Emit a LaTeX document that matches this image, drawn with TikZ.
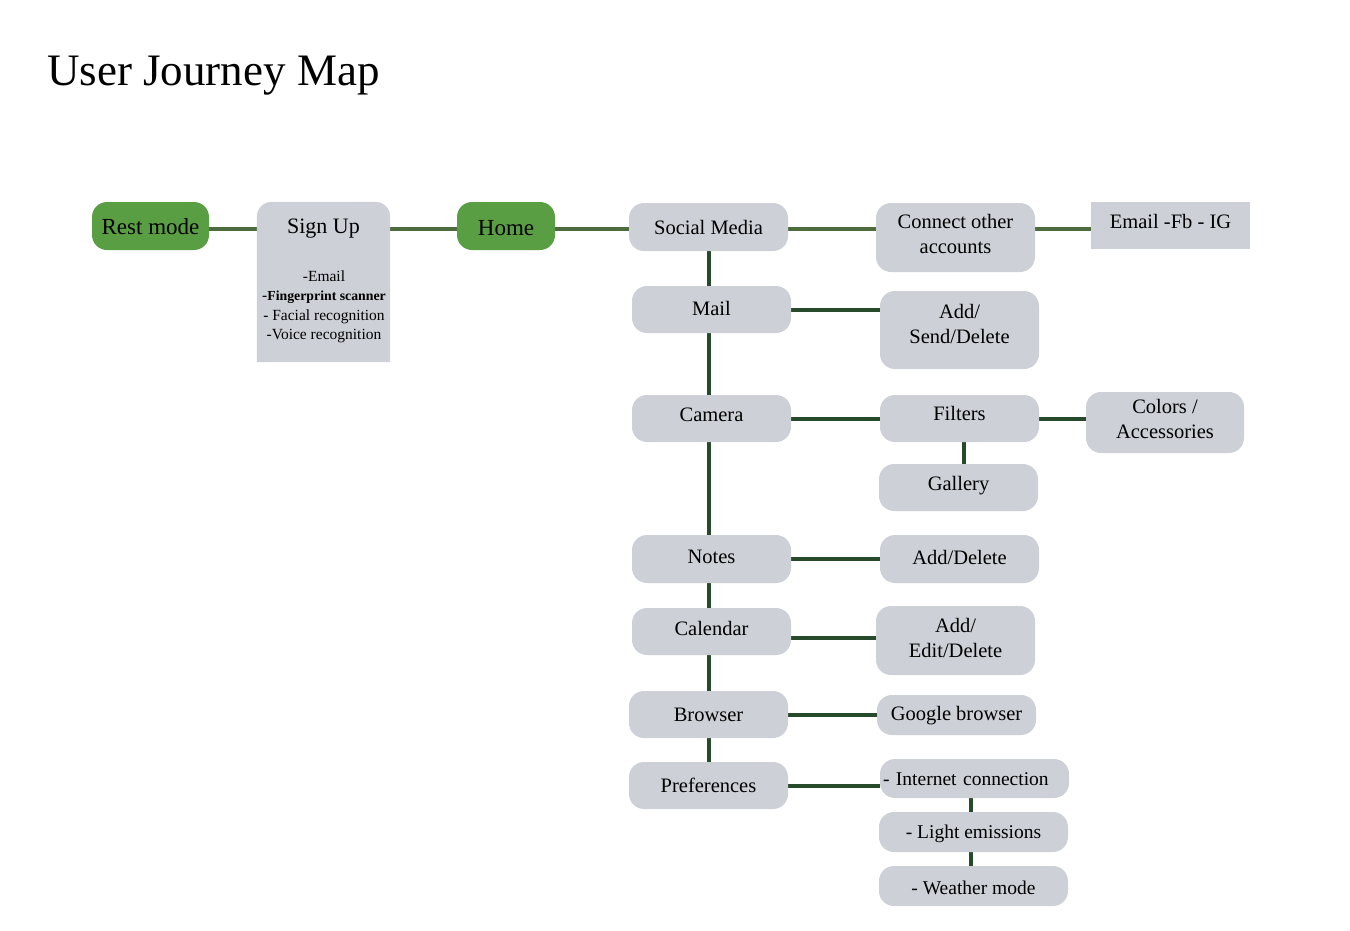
\documentclass[tikz,border=0pt]{standalone}
\usepackage{fontspec}
\setmainfont{Liberation Serif}
\usetikzlibrary{backgrounds}
\definecolor{boxgray}{RGB}{205,208,215}
\definecolor{boxgreen}{RGB}{90,158,68}
\definecolor{linetop}{RGB}{76,108,62}
\definecolor{linedark}{RGB}{38,74,42}
\newcommand{\tx}[2]{\raisebox{#1}[\height][\depth]{#2}}
\newcommand{\tl}[2]{\raisebox{#1}[\height][\depth]{\begin{tabular}{@{}c@{}}#2\end{tabular}}}
\tikzset{
  box/.style={fill=boxgray, rounded corners=15pt, inner sep=2pt, align=center,
    font=\fontsize{20.5}{25}\selectfont},
  gbox/.style={box, fill=boxgreen, font=\fontsize{23}{27}\selectfont},
  sqbox/.style={box, rounded corners=0pt},
  pbox/.style={box, font=\fontsize{19.5}{24}\selectfont},
  conn/.style={line width=4pt, draw=linedark},
  conntop/.style={line width=4pt, draw=linetop},
}
\begin{document}
\begin{tikzpicture}[x=1pt,y=-1pt]
\useasboundingbox (0,0) rectangle (1350,930);
\node[anchor=base west, inner sep=0pt, font=\fontsize{45}{50}\selectfont] (title) at (47,85) {User Journey Map};

% first row
\node[gbox, minimum width=117pt, minimum height=48pt] (rest) at (150.5,226) {\tx{-1pt}{Rest mode}};
\node[minimum width=133pt, minimum height=160pt, inner sep=0pt] (signup) at (323.5,282) {};
\fill[boxgray] (signup.south west) [rounded corners=15pt] -- (signup.north west) -- (signup.north east) [sharp corners] -- (signup.south east) -- cycle;
\node[font=\fontsize{22}{26}\selectfont] (signuptitle) at (323.5,229) {Sign Up};
\node[align=center, font=\fontsize{15.5}{19.5}\selectfont, anchor=north] (signuplist) at (324,267)
  {-Email\\ -{\fontsize{13.8}{19.5}\selectfont\textbf{Fingerprint scanner}}\\ - Facial recognition\\ -Voice recognition};
\node[gbox, minimum width=98pt, minimum height=48pt] (home) at (506,226) {\tx{-2pt}{Home}};
\node[box, minimum width=159pt, minimum height=48pt] (social) at (708.5,227) {Social Media};
\node[box, minimum width=159pt, minimum height=69pt] (connect) at (955.5,237.5) {\tl{1.5pt}{Connect other\\accounts}};
\node[sqbox, minimum width=159pt, minimum height=47pt] (email) at (1170.5,225.5) {\tx{4pt}{Email -Fb - IG}};

% trunk
\node[box, minimum width=159pt, minimum height=47pt] (mail) at (711.5,309.5) {\tx{1pt}{Mail}};
\node[box, minimum width=159pt, minimum height=78pt] (addsend) at (959.5,330) {\tl{4pt}{Add/\\Send/Delete}};
\node[box, minimum width=159pt, minimum height=47pt] (camera) at (711.5,418.5) {\tx{4pt}{Camera}};
\node[box, minimum width=159pt, minimum height=47pt] (filters) at (959.5,418.5) {\tx{5pt}{Filters}};
\node[box, minimum width=158pt, minimum height=61pt] (colors) at (1165,422.5) {\tl{2pt}{Colors /\\Accessories}};
\node[box, minimum width=159pt, minimum height=47pt] (gallery) at (958.5,487.5) {\tx{2pt}{Gallery}};
\node[box, minimum width=159pt, minimum height=48pt] (notes) at (711.5,559) {\tx{2pt}{Notes}};
\node[box, minimum width=159pt, minimum height=48pt] (adddel) at (959.5,559) {\tx{2pt}{Add/Delete}};
\node[box, minimum width=159pt, minimum height=47pt] (calendar) at (711.5,631.5) {\tx{3pt}{Calendar}};
\node[box, minimum width=159pt, minimum height=69pt] (addedit) at (955.5,640.5) {\tl{1pt}{Add/\\Edit/Delete}};
\node[box, minimum width=159pt, minimum height=47pt] (browser) at (708.5,714.5) {Browser};
\node[box, minimum width=159pt, minimum height=40pt] (google) at (956.5,715) {\tx{-1pt}{Google browser}};
\node[box, minimum width=159pt, minimum height=47pt] (pref) at (708.5,785.5) {Preferences};
\node[pbox, minimum width=189pt, minimum height=39pt, text width=183pt, align=left, inner sep=3pt] (internet) at (974.5,778.5) {\tx{-1pt}{- Internet connection}};
\node[pbox, minimum width=189pt, minimum height=40pt] (light) at (973.5,832) {\tx{-2pt}{- Light emissions}};
\node[pbox, minimum width=189pt, minimum height=40pt] (weather) at (973.5,886) {\tx{-2pt}{- Weather mode}};

\coordinate (calconn) at ([yshift=-6pt]calendar.east);
\coordinate (restconn) at ([yshift=-3pt]rest.east);
\coordinate (homeconn) at ([yshift=-3pt]home.east);
\coordinate (socconn) at ([yshift=-2pt]social.east);
\begin{pgfonlayer}{background}
\draw[conntop] (restconn) -- (signup.west |- restconn);
\draw[conntop] (signup.east |- homeconn) -- (home.west |- homeconn);
\draw[conntop] (homeconn) -- (social.west |- homeconn);
\draw[conntop] (socconn) -- (connect.west |- socconn);
\draw[conntop] (connect.east |- socconn) -- (email.west |- socconn);
\draw[conn] (social.south) -- (social.south |- pref.north);
\draw[conn] (mail.east) -- (addsend.west |- mail.east);
\draw[conn] (camera.east) -- (filters.west |- camera.east);
\draw[conn] (filters.east) -- (colors.west |- filters.east);
\draw[conn] ([xshift=4pt]filters.south) -- ([xshift=4pt]filters.south |- gallery.north);
\draw[conn] (notes.east) -- (adddel.west |- notes.east);
\draw[conn] (calconn) -- (addedit.west |- calconn);
\draw[conn] (browser.east) -- (google.west |- browser.east);
\draw[conn] (pref.east) -- (internet.west |- pref.east);
\draw[conn] ([xshift=-4pt]internet.south) -- ([xshift=-4pt]internet.south |- light.north);
\draw[conn] ([xshift=-3pt]light.south) -- ([xshift=-3pt]light.south |- weather.north);
\end{pgfonlayer}
\end{tikzpicture}
\end{document}
